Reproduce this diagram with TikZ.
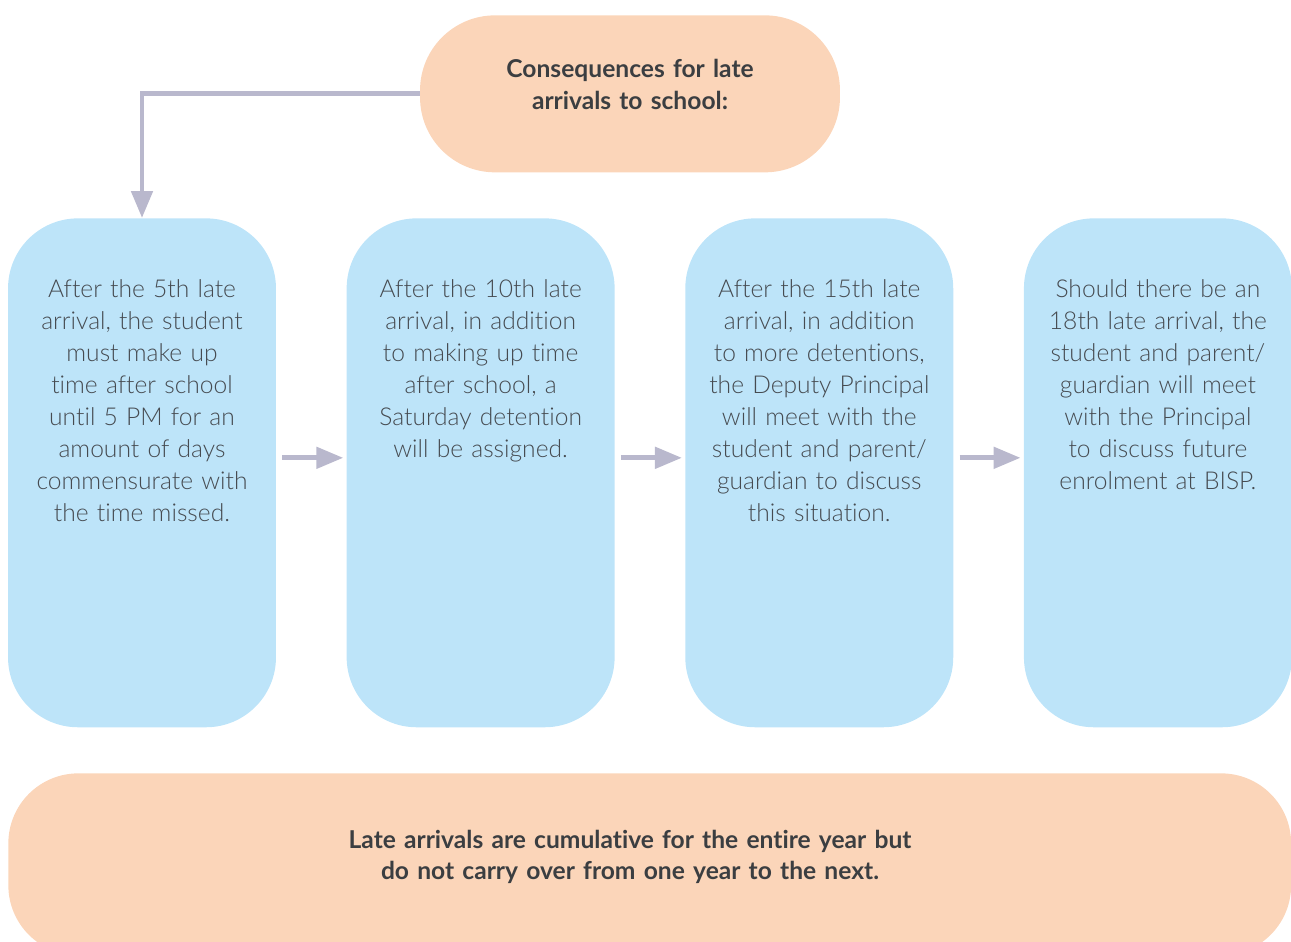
\documentclass[tikz,border=0pt]{standalone}
\usepackage{fontspec}
\setmainfont{Lato}[Ligatures=NoCommon]
\newfontfamily\lightfont{Lato Light}[Ligatures=NoCommon]
\usetikzlibrary{positioning,arrows.meta}
\definecolor{stepblue}{HTML}{BDE4F9}
\definecolor{peach}{HTML}{FBD5B9}
\definecolor{arrowgray}{HTML}{B9B8CD}
\definecolor{textgray}{HTML}{464B51}
\definecolor{boldgray}{HTML}{3B3E41}
\tikzset{
  stepbox/.style={fill=stepblue, rounded corners=1.4cm, minimum width=5.36cm, inner sep=0pt,
    text width=5.2cm, align=center, text height=1.58cm, text depth=8.6cm,
    font=\lightfont\fontsize{14}{18.2}\selectfont, text=textgray, anchor=north},
  headbox/.style={fill=peach, rounded corners=1.5cm, minimum width=8.4cm, inner sep=0pt,
    text width=7.6cm, align=center, text height=1.24cm, text depth=1.9cm,
    font=\bfseries\fontsize{14}{18.2}\selectfont, text=boldgray, anchor=north},
  notebox/.style={fill=peach, rounded corners=1.4cm, minimum width=25.66cm, minimum height=3.64cm,
    inner sep=0pt, anchor=north west},
  notetext/.style={text width=12.4cm, align=center, inner sep=0pt, anchor=base,
    font=\bfseries\fontsize{14}{18.2}\selectfont, text=boldgray},
  flow/.style={line width=2.8pt, draw=arrowgray, -{Triangle[length=0.54cm,width=0.42cm]}}
}
\begin{document}
\begin{tikzpicture}[x=0.02cm, y=-0.02cm]
    \useasboundingbox (0,0) rectangle (1291,941);
    \clip (0,0) rectangle (1291,941);
    % title
    \node[headbox] (head) at (630,15) {Consequences for late\\arrivals to school:};
    % steps
    \node[stepbox] (late5) at (142,218) {After the 5th late\\arrival, the student\\must make up\\time after school\\until 5 PM for an\\amount of days\\commensurate with\\the time missed.};
    \node[stepbox, right=1.4cm of late5] (late10) {After the 10th late\\arrival, in addition\\to making up time\\after school, a\\Saturday detention\\will be assigned.};
    \node[stepbox, right=1.4cm of late10] (late15) {After the 15th late\\arrival, in addition\\to more detentions,\\the Deputy Principal\\will meet with the\\student and parent/\\guardian to discuss\\this situation.};
    \node[stepbox, right=1.4cm of late15] (late18) {Should there be an\\18th late arrival, the\\student and parent/\\guardian will meet\\with the Principal\\to discuss future\\enrolment at BISP.};
    % note
    \node[notebox] (notebg) at (8,773) {};
    \node[notetext] (note) at (630,848) {Late arrivals are cumulative for the entire year but\\do not carry over from one year to the next.};
    % arrows
    \draw[flow] (head.west) -| (late5.north);
    \draw[flow, shorten <=0.12cm, shorten >=0.06cm] ([yshift=0.3cm]late5.east) -- ([yshift=0.3cm]late10.west);
    \draw[flow, shorten <=0.12cm, shorten >=0.06cm] ([yshift=0.3cm]late10.east) -- ([yshift=0.3cm]late15.west);
    \draw[flow, shorten <=0.12cm, shorten >=0.06cm] ([yshift=0.3cm]late15.east) -- ([yshift=0.3cm]late18.west);
\end{tikzpicture}
\end{document}
